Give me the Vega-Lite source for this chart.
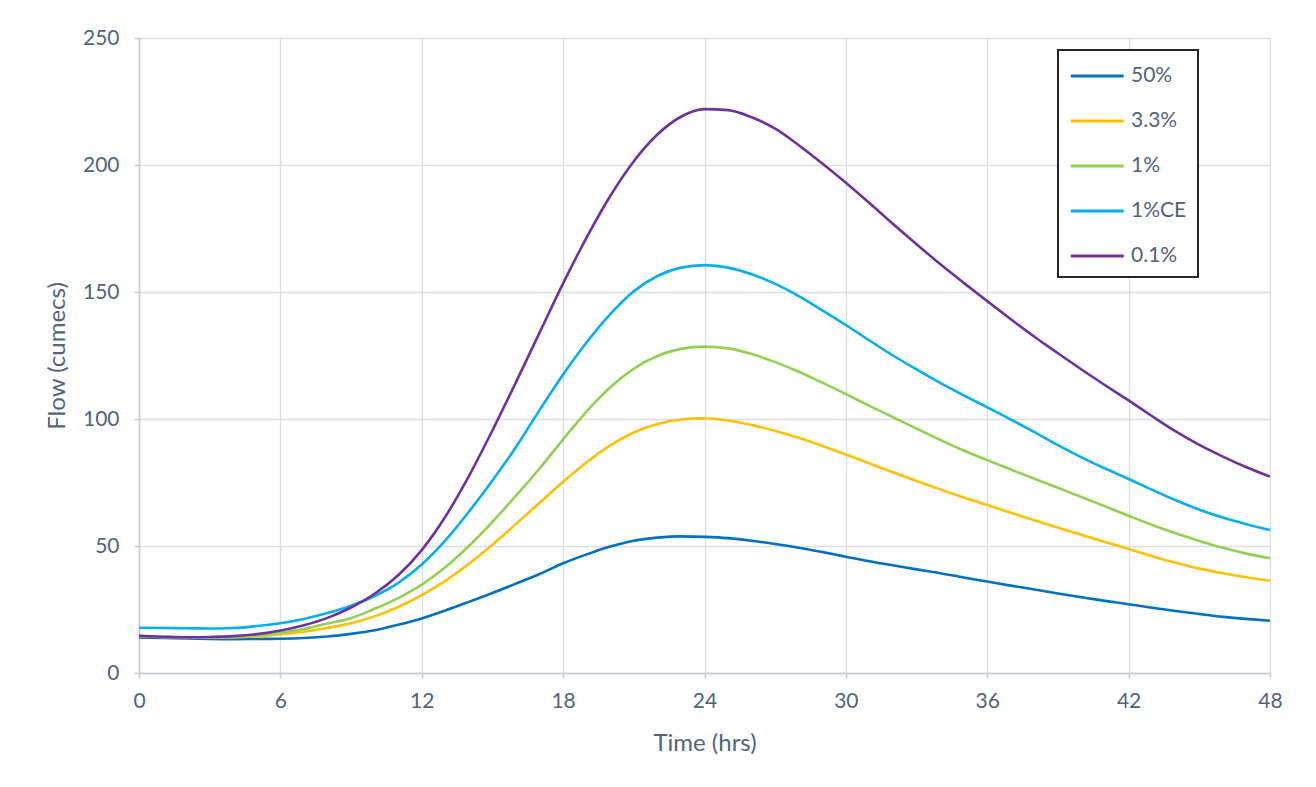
{
  "$schema": "https://vega.github.io/schema/vega-lite/v6.json",
  "width": 1131,
  "height": 635,
  "autosize": "none",
  "padding": {"left": 139, "top": 38, "right": 46, "bottom": 114},
  "background": "white",
  "data": {
    "values": [
      {"t":0,"p50":14.0,"p33":14.5,"p1":14.5,"p1ce":17.8,"p01":14.6},
      {"t":1,"p50":13.8,"p33":14.2,"p1":14.2,"p1ce":17.7,"p01":14.3},
      {"t":2,"p50":13.6,"p33":14.0,"p1":14.0,"p1ce":17.6,"p01":14.1},
      {"t":3,"p50":13.4,"p33":13.9,"p1":14.0,"p1ce":17.5,"p01":14.2},
      {"t":4,"p50":13.3,"p33":14.0,"p1":14.2,"p1ce":17.7,"p01":14.5},
      {"t":5,"p50":13.4,"p33":14.5,"p1":14.8,"p1ce":18.5,"p01":15.3},
      {"t":6,"p50":13.5,"p33":15.3,"p1":15.9,"p1ce":19.6,"p01":16.7},
      {"t":7,"p50":13.8,"p33":16.3,"p1":17.3,"p1ce":21.3,"p01":18.8},
      {"t":8,"p50":14.4,"p33":17.8,"p1":19.5,"p1ce":23.6,"p01":21.7},
      {"t":9,"p50":15.4,"p33":19.6,"p1":21.6,"p1ce":26.5,"p01":25.8},
      {"t":10,"p50":16.8,"p33":22.3,"p1":25.3,"p1ce":30.3,"p01":31.2},
      {"t":11,"p50":19.0,"p33":26.0,"p1":29.5,"p1ce":35.5,"p01":38.5},
      {"t":12,"p50":21.5,"p33":30.7,"p1":34.8,"p1ce":42.7,"p01":48.4},
      {"t":13,"p50":24.6,"p33":36.3,"p1":41.6,"p1ce":52.2,"p01":61.5},
      {"t":14,"p50":28.0,"p33":43.0,"p1":50.0,"p1ce":63.5,"p01":77.5},
      {"t":15,"p50":31.5,"p33":50.5,"p1":59.5,"p1ce":75.8,"p01":95.5},
      {"t":16,"p50":35.2,"p33":58.7,"p1":69.8,"p1ce":89.0,"p01":114.5},
      {"t":17,"p50":39.0,"p33":67.0,"p1":80.5,"p1ce":103.5,"p01":134.0},
      {"t":18,"p50":43.2,"p33":75.3,"p1":92.0,"p1ce":117.5,"p01":153.4},
      {"t":19,"p50":46.7,"p33":83.0,"p1":103.0,"p1ce":130.2,"p01":171.5},
      {"t":20,"p50":49.8,"p33":89.6,"p1":112.5,"p1ce":141.3,"p01":187.8},
      {"t":21,"p50":52.1,"p33":94.7,"p1":119.8,"p1ce":150.3,"p01":201.5},
      {"t":22,"p50":53.3,"p33":98.0,"p1":124.8,"p1ce":156.3,"p01":212.0},
      {"t":23,"p50":53.8,"p33":99.8,"p1":127.6,"p1ce":159.6,"p01":219.0},
      {"t":24,"p50":53.6,"p33":100.3,"p1":128.5,"p1ce":160.6,"p01":222.0},
      {"t":25,"p50":53.1,"p33":99.4,"p1":127.8,"p1ce":159.6,"p01":221.6},
      {"t":26,"p50":52.1,"p33":97.6,"p1":125.6,"p1ce":157.0,"p01":218.8},
      {"t":27,"p50":50.8,"p33":95.3,"p1":122.4,"p1ce":153.2,"p01":214.3},
      {"t":28,"p50":49.3,"p33":92.6,"p1":118.6,"p1ce":148.4,"p01":207.8},
      {"t":29,"p50":47.6,"p33":89.4,"p1":114.3,"p1ce":142.8,"p01":200.6},
      {"t":30,"p50":45.8,"p33":86.0,"p1":109.8,"p1ce":137.0,"p01":193.0},
      {"t":31,"p50":44.0,"p33":82.5,"p1":105.2,"p1ce":130.9,"p01":185.0},
      {"t":32,"p50":42.4,"p33":79.0,"p1":100.7,"p1ce":125.0,"p01":176.8},
      {"t":33,"p50":40.8,"p33":75.6,"p1":96.2,"p1ce":119.5,"p01":168.8},
      {"t":34,"p50":39.3,"p33":72.3,"p1":91.8,"p1ce":114.2,"p01":161.0},
      {"t":35,"p50":37.6,"p33":69.1,"p1":87.6,"p1ce":109.3,"p01":153.6},
      {"t":36,"p50":36.0,"p33":66.1,"p1":83.8,"p1ce":104.6,"p01":146.4},
      {"t":37,"p50":34.4,"p33":63.1,"p1":80.1,"p1ce":99.8,"p01":139.3},
      {"t":38,"p50":32.9,"p33":60.1,"p1":76.5,"p1ce":94.8,"p01":132.4},
      {"t":39,"p50":31.3,"p33":57.2,"p1":72.9,"p1ce":89.7,"p01":125.9},
      {"t":40,"p50":29.8,"p33":54.4,"p1":69.3,"p1ce":84.9,"p01":119.5},
      {"t":41,"p50":28.4,"p33":51.6,"p1":65.6,"p1ce":80.5,"p01":113.3},
      {"t":42,"p50":27.1,"p33":48.8,"p1":61.9,"p1ce":76.4,"p01":107.3},
      {"t":43,"p50":25.7,"p33":46.0,"p1":58.3,"p1ce":72.1,"p01":101.1},
      {"t":44,"p50":24.4,"p33":43.4,"p1":55.0,"p1ce":68.0,"p01":95.1},
      {"t":45,"p50":23.2,"p33":41.1,"p1":52.0,"p1ce":64.3,"p01":89.8},
      {"t":46,"p50":22.1,"p33":39.3,"p1":49.3,"p1ce":61.2,"p01":85.2},
      {"t":47,"p50":21.3,"p33":37.7,"p1":47.0,"p1ce":58.6,"p01":81.0},
      {"t":48,"p50":20.6,"p33":36.3,"p1":45.2,"p1ce":56.3,"p01":77.3}
    ]
  },
  "transform": [
    {"fold": ["p50", "p33", "p1", "p1ce", "p01"], "as": ["series", "flow"]}
  ],
  "mark": {"type": "line", "strokeWidth": 2.6, "interpolate": "monotone"},
  "encoding": {
    "x": {
      "field": "t", "type": "quantitative",
      "scale": {"domain": [0, 48], "nice": false},
      "axis": {"values": [0, 6, 12, 18, 24, 30, 36, 42, 48], "title": "Time (hrs)", "labelPadding": 12, "labelFlush": false, "titleY": 70, "titleBaseline": "middle"}
    },
    "y": {
      "field": "flow", "type": "quantitative",
      "scale": {"domain": [0, 250], "nice": false},
      "axis": {"values": [0, 50, 100, 150, 200, 250], "title": "Flow (cumecs)", "labelPadding": 15, "labelFlush": false, "titleX": -82, "titleBaseline": "middle"}
    },
    "color": {
      "field": "series", "type": "nominal",
      "scale": {
        "domain": ["p50", "p33", "p1", "p1ce", "p01"],
        "range": ["#0070C0", "#FFC000", "#92D050", "#00B0F0", "#7030A0"]
      },
      "legend": {
        "title": null,
        "orient": "none",
        "legendX": 919,
        "legendY": 12,
        "labelExpr": "datum.label == 'p50' ? '50%' : datum.label == 'p33' ? '3.3%' : datum.label == 'p1' ? '1%' : datum.label == 'p1ce' ? '1%CE' : '0.1%'"
      }
    }
  },
  "config": {
    "font": "Lato",
    "view": {"stroke": null},
    "axis": {
      "labelFont": "Lato", "labelFontSize": 21, "labelColor": "#52647A",
      "titleFont": "Lato", "titleFontSize": 24, "titleColor": "#52647A", "titleFontWeight": "normal",
      "gridColor": "#D9DEE4", "gridWidth": 1.3,
      "domainColor": "#C3CAD3", "domainWidth": 1.5,
      "tickColor": "#C3CAD3", "tickSize": 5, "tickWidth": 1.5
    },
    "legend": {
      "symbolType": "M-1,0H3",
      "symbolSize": 702,
      "symbolStrokeWidth": 3,
      "labelFont": "Lato", "labelFontSize": 21, "labelColor": "#52647A",
      "labelOffset": 32,
      "strokeColor": "#262626",
      "strokeWidth": 2,
      "padding": 11,
      "rowPadding": 20,
      "fillColor": "white"
    }
  }
}
